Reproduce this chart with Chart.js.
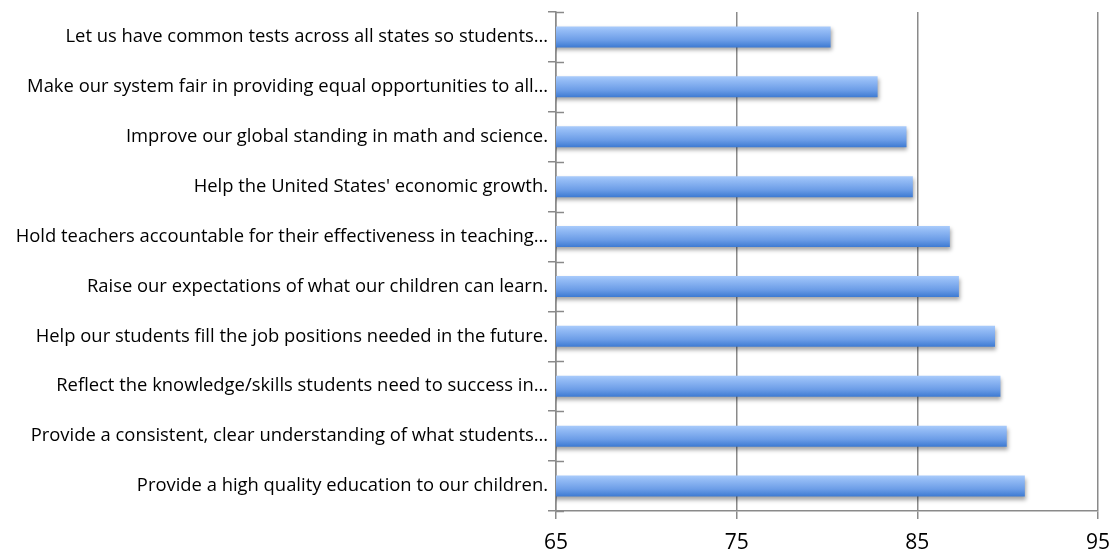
<!DOCTYPE html>
<html>
<head>
<meta charset="utf-8">
<script src="https://cdn.jsdelivr.net/npm/chart.js@4.4.1/dist/chart.umd.min.js"></script>
<style>
  html, body { margin: 0; padding: 0; background: #fff; }
  #wrap { width: 1116px; height: 553px; }
</style>
</head>
<body>
<div id="wrap"><canvas id="myChart"></canvas></div>
<script>
  const labels = [
    'Let us have common tests across all states so students…',
    'Make our system fair in providing equal opportunities to all…',
    'Improve our global standing in math and science.',
    "Help the United States' economic growth.",
    'Hold teachers accountable for their effectiveness in teaching…',
    'Raise our expectations of what our children can learn.',
    'Help our students fill the job positions needed in the future.',
    'Reflect the knowledge/skills students need to success in…',
    'Provide a consistent, clear understanding of what students…',
    'Provide a high quality education to our children.'
  ];
  const values = [80.2, 82.8, 84.4, 84.75, 86.8, 87.3, 89.3, 89.6, 89.95, 90.95];
  const xTicks = [65, 75, 85, 95];

  const fontFam = '"Open Sans", Carlito, Calibri, sans-serif';

  // gradient + drop shadow on the bars
  const barLook = {
    id: 'barLook',
    beforeDatasetsDraw(chart) {
      const c = chart.ctx;
      chart.getDatasetMeta(0).data.forEach(bar => {
        const h = bar.height;
        const g = c.createLinearGradient(0, bar.y - h / 2, 0, bar.y + h / 2);
        g.addColorStop(0, '#a9cbfb');
        g.addColorStop(0.2, '#93bbf5');
        g.addColorStop(0.65, '#6c9de7');
        g.addColorStop(1, '#3d7ad2');
        bar.options.backgroundColor = g;
      });
      c.save();
      c.shadowColor = 'rgba(0,0,0,0.35)';
      c.shadowBlur = 4;
      c.shadowOffsetX = 1;
      c.shadowOffsetY = 3;
    },
    afterDatasetsDraw(chart) {
      chart.ctx.restore();
    },
    afterDraw(chart) {
      // category tick marks cross the axis line on both sides
      const y = chart.scales.y, x = chart.scales.x;
      const c = chart.ctx;
      const left = x.getPixelForValue(65);
      c.save();
      c.strokeStyle = '#8a8a8a';
      c.lineWidth = 1.5;
      c.beginPath();
      for (let i = 0; i <= labels.length; i++) {
        const py = Math.round(y.getPixelForValue(i - 0.5)) + 0.5;
        c.moveTo(left, py);
        c.lineTo(left + 8, py);
      }
      c.stroke();
      c.restore();
    }
  };

  const ctx = document.getElementById('myChart');
  new Chart(ctx, {
    type: 'bar',
    data: {
      labels: labels,
      datasets: [{
        data: values,
        // function so every bar gets its own options object
        backgroundColor: () => '#6a9be6',
        borderWidth: 0,
        barPercentage: 0.42,
        categoryPercentage: 1
      }]
    },
    plugins: [barLook],
    options: {
      indexAxis: 'y',
      responsive: true,
      maintainAspectRatio: false,
      animation: false,
      layout: { padding: { top: 12, right: 18, left: 0, bottom: 0 } },
      plugins: {
        legend: { display: false },
        tooltip: { enabled: false }
      },
      scales: {
        x: {
          min: 65,
          max: 95,
          afterBuildTicks: s => { s.ticks = xTicks.map(v => ({ value: v })); },
          grid: {
            color: '#8a8a8a',
            lineWidth: 1.5,
            tickLength: 8,
            drawTicks: true
          },
          border: { color: '#8a8a8a', width: 1.5 },
          ticks: {
            color: '#000',
            padding: 11,
            font: { family: fontFam, size: 21 }
          },
          afterFit: s => { s.height = 42; s.paddingRight = 0; s.paddingLeft = 0; }
        },
        y: {
          grid: {
            offset: true,
            drawOnChartArea: false,
            color: '#8a8a8a',
            lineWidth: 1.5,
            tickLength: 8
          },
          border: { color: '#8a8a8a', width: 1.5 },
          ticks: {
            color: '#000',
            padding: 0,
            autoSkip: false,
            font: { family: fontFam, size: 18.4 }
          },
          afterFit: s => { s.width = 556; }
        }
      }
    }
  });
</script>
</body>
</html>
